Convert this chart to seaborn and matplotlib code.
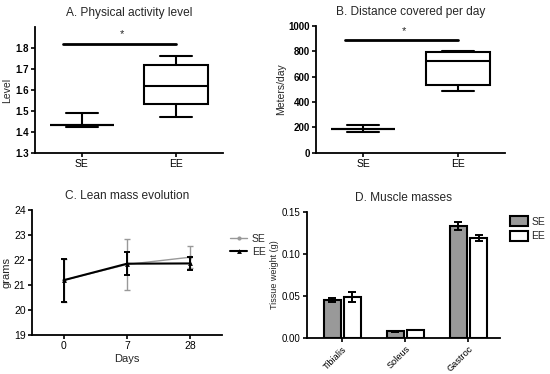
import numpy as np
import pandas as pd
import matplotlib
matplotlib.use("Agg")
import matplotlib.pyplot as plt
import seaborn as sns
from matplotlib.patches import Patch

sns.set_theme(style="ticks")
plt.rcParams['font.family'] = ['Liberation Sans', 'DejaVu Sans']

# ---------------- data ----------------
groups = ["SE", "EE"]
# A. Physical activity level (min, Q1, median, Q3, max)
pal_se = [1.424, 1.431, 1.432, 1.433, 1.49]
pal_ee = [1.47, 1.535, 1.62, 1.72, 1.76]
# B. Distance covered per day (m/day)
dist_se = [166, 185, 186, 187, 219]
dist_ee = [487, 532, 721, 792, 803]
sig_a = 1.82
sig_b = 890

# C. Lean mass evolution
days = ["0", "7", "28"]
lean_se_mean = [21.19, 21.82, 22.11]
lean_se_err = [0.86, 1.03, 0.45]
lean_ee_mean = [21.19, 21.85, 21.86]
lean_ee_err = [0.86, 0.45, 0.26]

# D. Muscle masses
muscles = ["Tibialis", "Soleus", "Gastroc"]
mm_se = [0.0454, 0.0080, 0.1333]
mm_se_err = [0.0024, 0.0003, 0.0044]
mm_ee = [0.0490, 0.0095, 0.1190]
mm_ee_err = [0.0058, 0.0004, 0.0036]

# ---------------- figure ----------------
fig = plt.figure(figsize=(5.5, 3.74), dpi=100)
axA = fig.add_axes([0.0636, 0.591, 0.3414, 0.337])
axB = fig.add_axes([0.575, 0.592, 0.343, 0.338])
axC = fig.add_axes([0.058, 0.104, 0.346, 0.335])
axD = fig.add_axes([0.558, 0.096, 0.351, 0.337])

LW = 1.5
tick_fs = 7
title_fs = 8.6


def style(ax):
    sns.despine(ax=ax)
    for s in ("left", "bottom"):
        ax.spines[s].set_linewidth(1.3)
        ax.spines[s].set_color("black")
    ax.tick_params(axis="both", length=3, width=1.2, labelsize=tick_fs,
                   colors="black", pad=1.5)
    for lab in ax.get_yticklabels():
        lab.set_fontweight("bold")


def box_panel(ax, se, ee, title, ylabel, ylim, yticks, sig):
    df = pd.DataFrame({"group": ["SE"] * len(se) + ["EE"] * len(ee),
                       "value": se + ee})
    sns.boxplot(data=df, x="group", y="value", order=groups, ax=ax,
                whis=(0, 100), width=0.68, color="white", linecolor="black",
                linewidth=LW, saturation=1)
    ax.set_xlim(-0.5, 1.5)
    ax.set_ylim(*ylim)
    ax.set_yticks(yticks)
    ax.set_xlabel("")
    ax.set_ylabel(ylabel, fontsize=7.5, labelpad=2)
    ax.set_title(title, fontsize=title_fs, pad=8)
    ax.plot([-0.2, 1.0], [sig, sig], color="black", lw=2)
    ax.text(0.43, sig + (ylim[1] - ylim[0]) * 0.035, "*", ha="center",
            va="bottom", fontsize=8)
    style(ax)
    ax.tick_params(axis="x", labelsize=7.5)


box_panel(axA, pal_se, pal_ee, "A. Physical activity level", "Level",
          (1.3, 1.9), [1.3, 1.4, 1.5, 1.6, 1.7, 1.8], sig_a)
axA.yaxis.set_major_formatter(matplotlib.ticker.FormatStrFormatter("%.1f"))
box_panel(axB, dist_se, dist_ee, "B. Distance covered per day", "Meters/day",
          (0, 1000), [0, 200, 400, 600, 800, 1000], sig_b)

# C. line plot
xpos = list(range(len(days)))
se_col = "#999999"
sns.lineplot(x=xpos, y=lean_se_mean, ax=axC, color=se_col, lw=1.0,
             marker="o", markersize=3, markeredgewidth=0, label="SE")
axC.errorbar(xpos, lean_se_mean, yerr=lean_se_err, fmt="none",
             ecolor=se_col, elinewidth=1.0, capsize=2.5, capthick=1.0)
sns.lineplot(x=xpos, y=lean_ee_mean, ax=axC, color="black", lw=1.5,
             marker="^", markersize=3.5, markeredgewidth=0, label="EE")
axC.errorbar(xpos, lean_ee_mean, yerr=lean_ee_err, fmt="none",
             ecolor="black", elinewidth=1.4, capsize=2.5, capthick=1.4)
axC.set_xlim(-0.5, 2.5)
axC.set_ylim(19, 24)
axC.set_yticks([19, 20, 21, 22, 23, 24])
axC.set_xticks(xpos)
axC.set_xticklabels(days)
axC.set_xlabel("Days", fontsize=8, labelpad=2)
axC.set_ylabel("grams", fontsize=8, labelpad=2)
axC.set_title("C. Lean mass evolution", fontsize=title_fs, pad=8)
style(axC)
for lab in axC.get_yticklabels():
    lab.set_fontweight("normal")
axC.tick_params(labelsize=7.5)
axC.legend(frameon=False, loc="upper left", bbox_to_anchor=(1.02, 0.84),
           fontsize=7.5, handlelength=1.6, handletextpad=0.5,
           labelspacing=0.25, borderaxespad=0)

# D. bar plot
dfD = pd.DataFrame({"muscle": muscles * 2,
                    "group": ["SE"] * 3 + ["EE"] * 3,
                    "value": mm_se + mm_ee})
sns.barplot(data=dfD, x="muscle", y="value", hue="group", order=muscles,
            hue_order=groups, palette={"SE": "#999999", "EE": "white"},
            edgecolor="black", linewidth=LW, width=0.64, gap=0.17,
            errorbar=None, ax=axD, saturation=1)
errs = {"SE": mm_se_err, "EE": mm_ee_err}
vals = {"SE": mm_se, "EE": mm_ee}
for gi, g in enumerate(groups):
    cont = axD.containers[gi]
    xs = [p.get_x() + p.get_width() / 2 for p in cont.patches]
    axD.errorbar(xs, vals[g], yerr=errs[g], fmt="none", ecolor="black",
                 elinewidth=1.4, capsize=3, capthick=1.4)
axD.set_xlim(-0.56, 2.5)
axD.set_ylim(0, 0.15)
axD.set_yticks([0, 0.05, 0.10, 0.15])
axD.yaxis.set_major_formatter(matplotlib.ticker.FormatStrFormatter("%.2f"))
axD.set_xlabel("")
axD.set_ylabel("Tissue weight (g)", fontsize=6.5, labelpad=2)
axD.set_title("D. Muscle masses", fontsize=title_fs, pad=8)
style(axD)
for lab in axD.get_yticklabels():
    lab.set_fontweight("normal")
axD.tick_params(labelsize=7)
for lab in axD.get_xticklabels():
    lab.set_rotation(45)
    lab.set_ha("right")
    lab.set_rotation_mode("anchor")
    lab.set_fontsize(6.6)
handles = [Patch(facecolor="#999999", edgecolor="black", linewidth=LW),
           Patch(facecolor="white", edgecolor="black", linewidth=LW)]
axD.legend(handles, groups, frameon=False, loc="upper left",
           bbox_to_anchor=(1.03, 1.0), fontsize=7.5, handlelength=1.7,
           handleheight=1.1, handletextpad=0.35, labelspacing=0.4,
           borderaxespad=0)

fig.savefig("out.png", dpi=100)
